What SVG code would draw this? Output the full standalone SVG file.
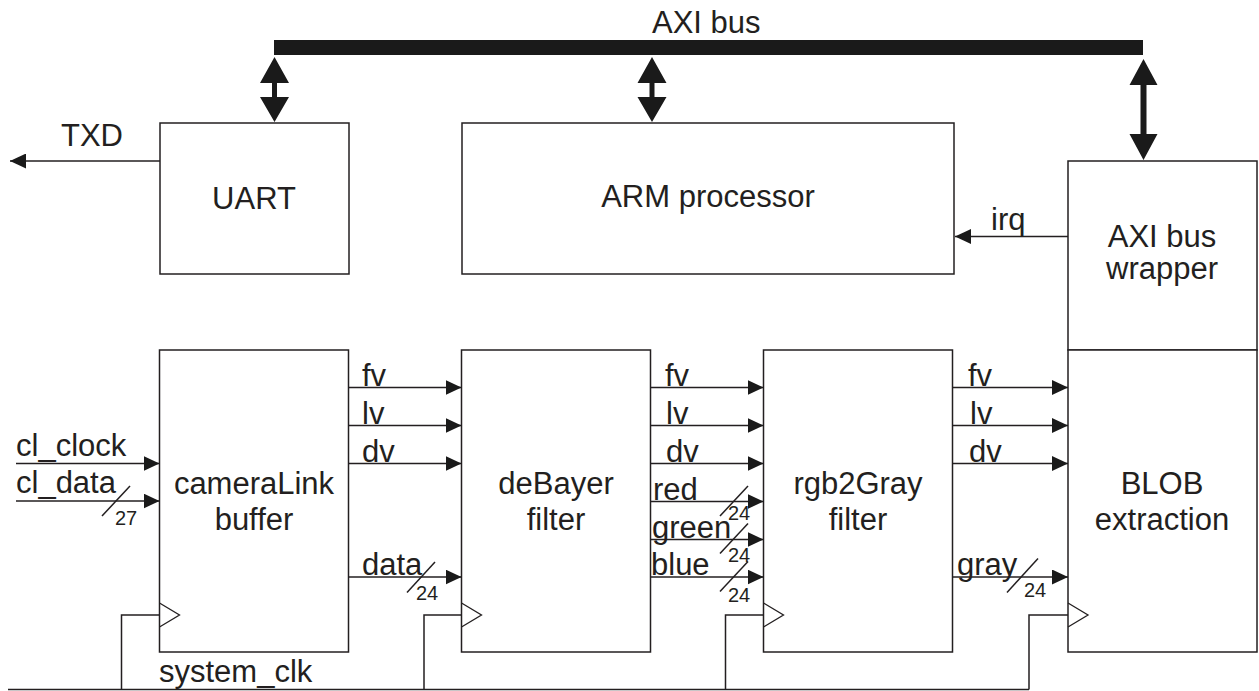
<svg xmlns="http://www.w3.org/2000/svg" width="1259" height="691" viewBox="0 0 1259 691">
  <defs>
    <style>
      .box { fill: #ffffff; stroke: #231f20; stroke-width: 1.5; }
      .wire { fill: none; stroke: #231f20; stroke-width: 1.5; }
      .sig { fill: none; stroke: #231f20; stroke-width: 1.5; marker-end: url(#head); }
      .clk { fill: none; stroke: #231f20; stroke-width: 1.3; }
      .solid { fill: #1a1a1a; stroke: none; }
      text { font-family: "Liberation Sans", Arial, sans-serif; fill: #231f20; }
      .t { font-size: 31px; }
      .c { text-anchor: middle; }
      .w { font-size: 20px; }
    </style>
    <marker id="head" markerUnits="userSpaceOnUse" markerWidth="16" markerHeight="15" refX="16" refY="7.5" orient="auto">
      <path d="M0,0 L16,7.5 L0,15 Z" fill="#1a1a1a"/>
    </marker>
  </defs>

  <!-- AXI bus -->
  <g id="axi-bus">
    <rect class="solid" x="274" y="40" width="869" height="15"/>
    <text class="t" x="652" y="33">AXI bus</text>
  </g>

  <!-- UART -->
  <g id="uart">
    <rect class="box" x="160" y="123" width="189" height="151"/>
    <text class="t c" x="254" y="209">UART</text>
  </g>

  <!-- ARM processor -->
  <g id="arm">
    <rect class="box" x="462" y="123" width="492" height="151"/>
    <text class="t c" x="708" y="207">ARM processor</text>
  </g>

  <!-- AXI bus wrapper -->
  <g id="wrapper">
    <rect class="box" x="1068" y="161" width="189" height="189"/>
    <text class="t c" x="1162" y="247">AXI bus</text>
    <text class="t c" x="1162" y="279">wrapper</text>
  </g>

  <!-- cameraLink buffer -->
  <g id="cameralink">
    <rect class="box" x="159.5" y="350" width="189" height="302"/>
    <text class="t c" x="254" y="494">cameraLink</text>
    <text class="t c" x="254" y="530">buffer</text>
    <path class="clk" d="M159.5,603 L179.5,615 L159.5,627"/>
  </g>

  <!-- deBayer filter -->
  <g id="debayer">
    <rect class="box" x="461.5" y="350" width="189" height="302"/>
    <text class="t c" x="556" y="494">deBayer</text>
    <text class="t c" x="556" y="530">filter</text>
    <path class="clk" d="M461.5,603 L481.5,615 L461.5,627"/>
  </g>

  <!-- rgb2Gray filter -->
  <g id="rgb2gray">
    <rect class="box" x="763.5" y="350" width="189" height="302"/>
    <text class="t c" x="858" y="494">rgb2Gray</text>
    <text class="t c" x="858" y="530">filter</text>
    <path class="clk" d="M763.5,603 L783.5,615 L763.5,627"/>
  </g>

  <!-- BLOB extraction -->
  <g id="blob">
    <rect class="box" x="1068" y="350" width="189" height="302"/>
    <text class="t c" x="1162" y="494">BLOB</text>
    <text class="t c" x="1162" y="530">extraction</text>
    <path class="clk" d="M1068,603 L1088,615 L1068,627"/>
  </g>

  <g id="connectors">
    <!-- bus links -->
    <path class="solid" d="M274.5,57 L289,83 L277,83 L277,97 L289,97 L274.5,122 L260,97 L272,97 L272,83 L260,83 Z"/>
    <path class="solid" d="M652,57 L666.5,83 L654.5,83 L654.5,97 L666.5,97 L652,122 L637.5,97 L649.5,97 L649.5,83 L637.5,83 Z"/>
    <path class="solid" d="M1143.5,59 L1157.5,85 L1146.5,85 L1146.5,134 L1157.5,134 L1143.5,160 L1129.5,134 L1140.5,134 L1140.5,85 L1129.5,85 Z"/>

    <!-- TXD -->
    <line class="sig" x1="160" y1="161" x2="10" y2="161"/>
    <text class="t" x="61" y="146">TXD</text>

    <!-- irq -->
    <line class="sig" x1="1068" y1="236.5" x2="955" y2="236.5"/>
    <text class="t" x="991" y="230">irq</text>

    <!-- camera inputs -->
    <line class="sig" x1="16" y1="463.5" x2="159.5" y2="463.5"/>
    <text class="t" x="16" y="456">cl_clock</text>
    <line class="sig" x1="16" y1="501" x2="159.5" y2="501"/>
    <text class="t" x="16" y="493">cl_data</text>
    <line class="wire" x1="102" y1="516" x2="130" y2="486"/>
    <text class="w" x="115" y="525">27</text>

    <!-- cameraLink to deBayer -->
    <line class="sig" x1="348.5" y1="387.5" x2="461.5" y2="387.5"/>
    <text class="t" x="362" y="386">fv</text>
    <line class="sig" x1="348.5" y1="425.5" x2="461.5" y2="425.5"/>
    <text class="t" x="362" y="424">lv</text>
    <line class="sig" x1="348.5" y1="463.5" x2="461.5" y2="463.5"/>
    <text class="t" x="362" y="462">dv</text>
    <line class="sig" x1="348.5" y1="577" x2="461.5" y2="577"/>
    <text class="t" x="362" y="575">data</text>
    <line class="wire" x1="407" y1="592.5" x2="435" y2="562"/>
    <text class="w" x="416" y="600">24</text>

    <!-- deBayer to rgb2Gray -->
    <line class="sig" x1="650.5" y1="387.5" x2="763.5" y2="387.5"/>
    <text class="t" x="665" y="386">fv</text>
    <line class="sig" x1="650.5" y1="425.5" x2="763.5" y2="425.5"/>
    <text class="t" x="666" y="424">lv</text>
    <line class="sig" x1="650.5" y1="463.5" x2="763.5" y2="463.5"/>
    <text class="t" x="666" y="462">dv</text>
    <line class="sig" x1="650.5" y1="501.5" x2="763.5" y2="501.5"/>
    <text class="t" x="653" y="500">red</text>
    <line class="wire" x1="720" y1="516" x2="748" y2="486"/>
    <text class="w" x="728" y="520">24</text>
    <line class="sig" x1="650.5" y1="539.5" x2="763.5" y2="539.5"/>
    <text class="t" x="652" y="538">green</text>
    <line class="wire" x1="720" y1="553.5" x2="748" y2="523.5"/>
    <text class="w" x="728" y="562">24</text>
    <line class="sig" x1="650.5" y1="577" x2="763.5" y2="577"/>
    <text class="t" x="651" y="575">blue</text>
    <line class="wire" x1="720" y1="591.5" x2="748" y2="561.5"/>
    <text class="w" x="728" y="602">24</text>

    <!-- rgb2Gray to BLOB -->
    <line class="sig" x1="952.5" y1="387.5" x2="1068" y2="387.5"/>
    <text class="t" x="968" y="386">fv</text>
    <line class="sig" x1="952.5" y1="425.5" x2="1068" y2="425.5"/>
    <text class="t" x="970" y="424">lv</text>
    <line class="sig" x1="952.5" y1="463.5" x2="1068" y2="463.5"/>
    <text class="t" x="969" y="462">dv</text>
    <line class="sig" x1="952.5" y1="577" x2="1068" y2="577"/>
    <text class="t" x="957" y="575">gray</text>
    <line class="wire" x1="1007" y1="592.5" x2="1038" y2="558.5"/>
    <text class="w" x="1024" y="597">24</text>

    <!-- system clock distribution -->
    <path class="wire" d="M8,689.5 L1029,689.5"/>
    <path class="wire" d="M121.5,689.5 L121.5,615 L159.5,615"/>
    <path class="wire" d="M424,689.5 L424,615 L461.5,615"/>
    <path class="wire" d="M725.5,689.5 L725.5,615 L763.5,615"/>
    <path class="wire" d="M1029,689.5 L1029,615 L1068,615"/>
    <text class="t" x="159" y="682">system_clk</text>
  </g>
</svg>
